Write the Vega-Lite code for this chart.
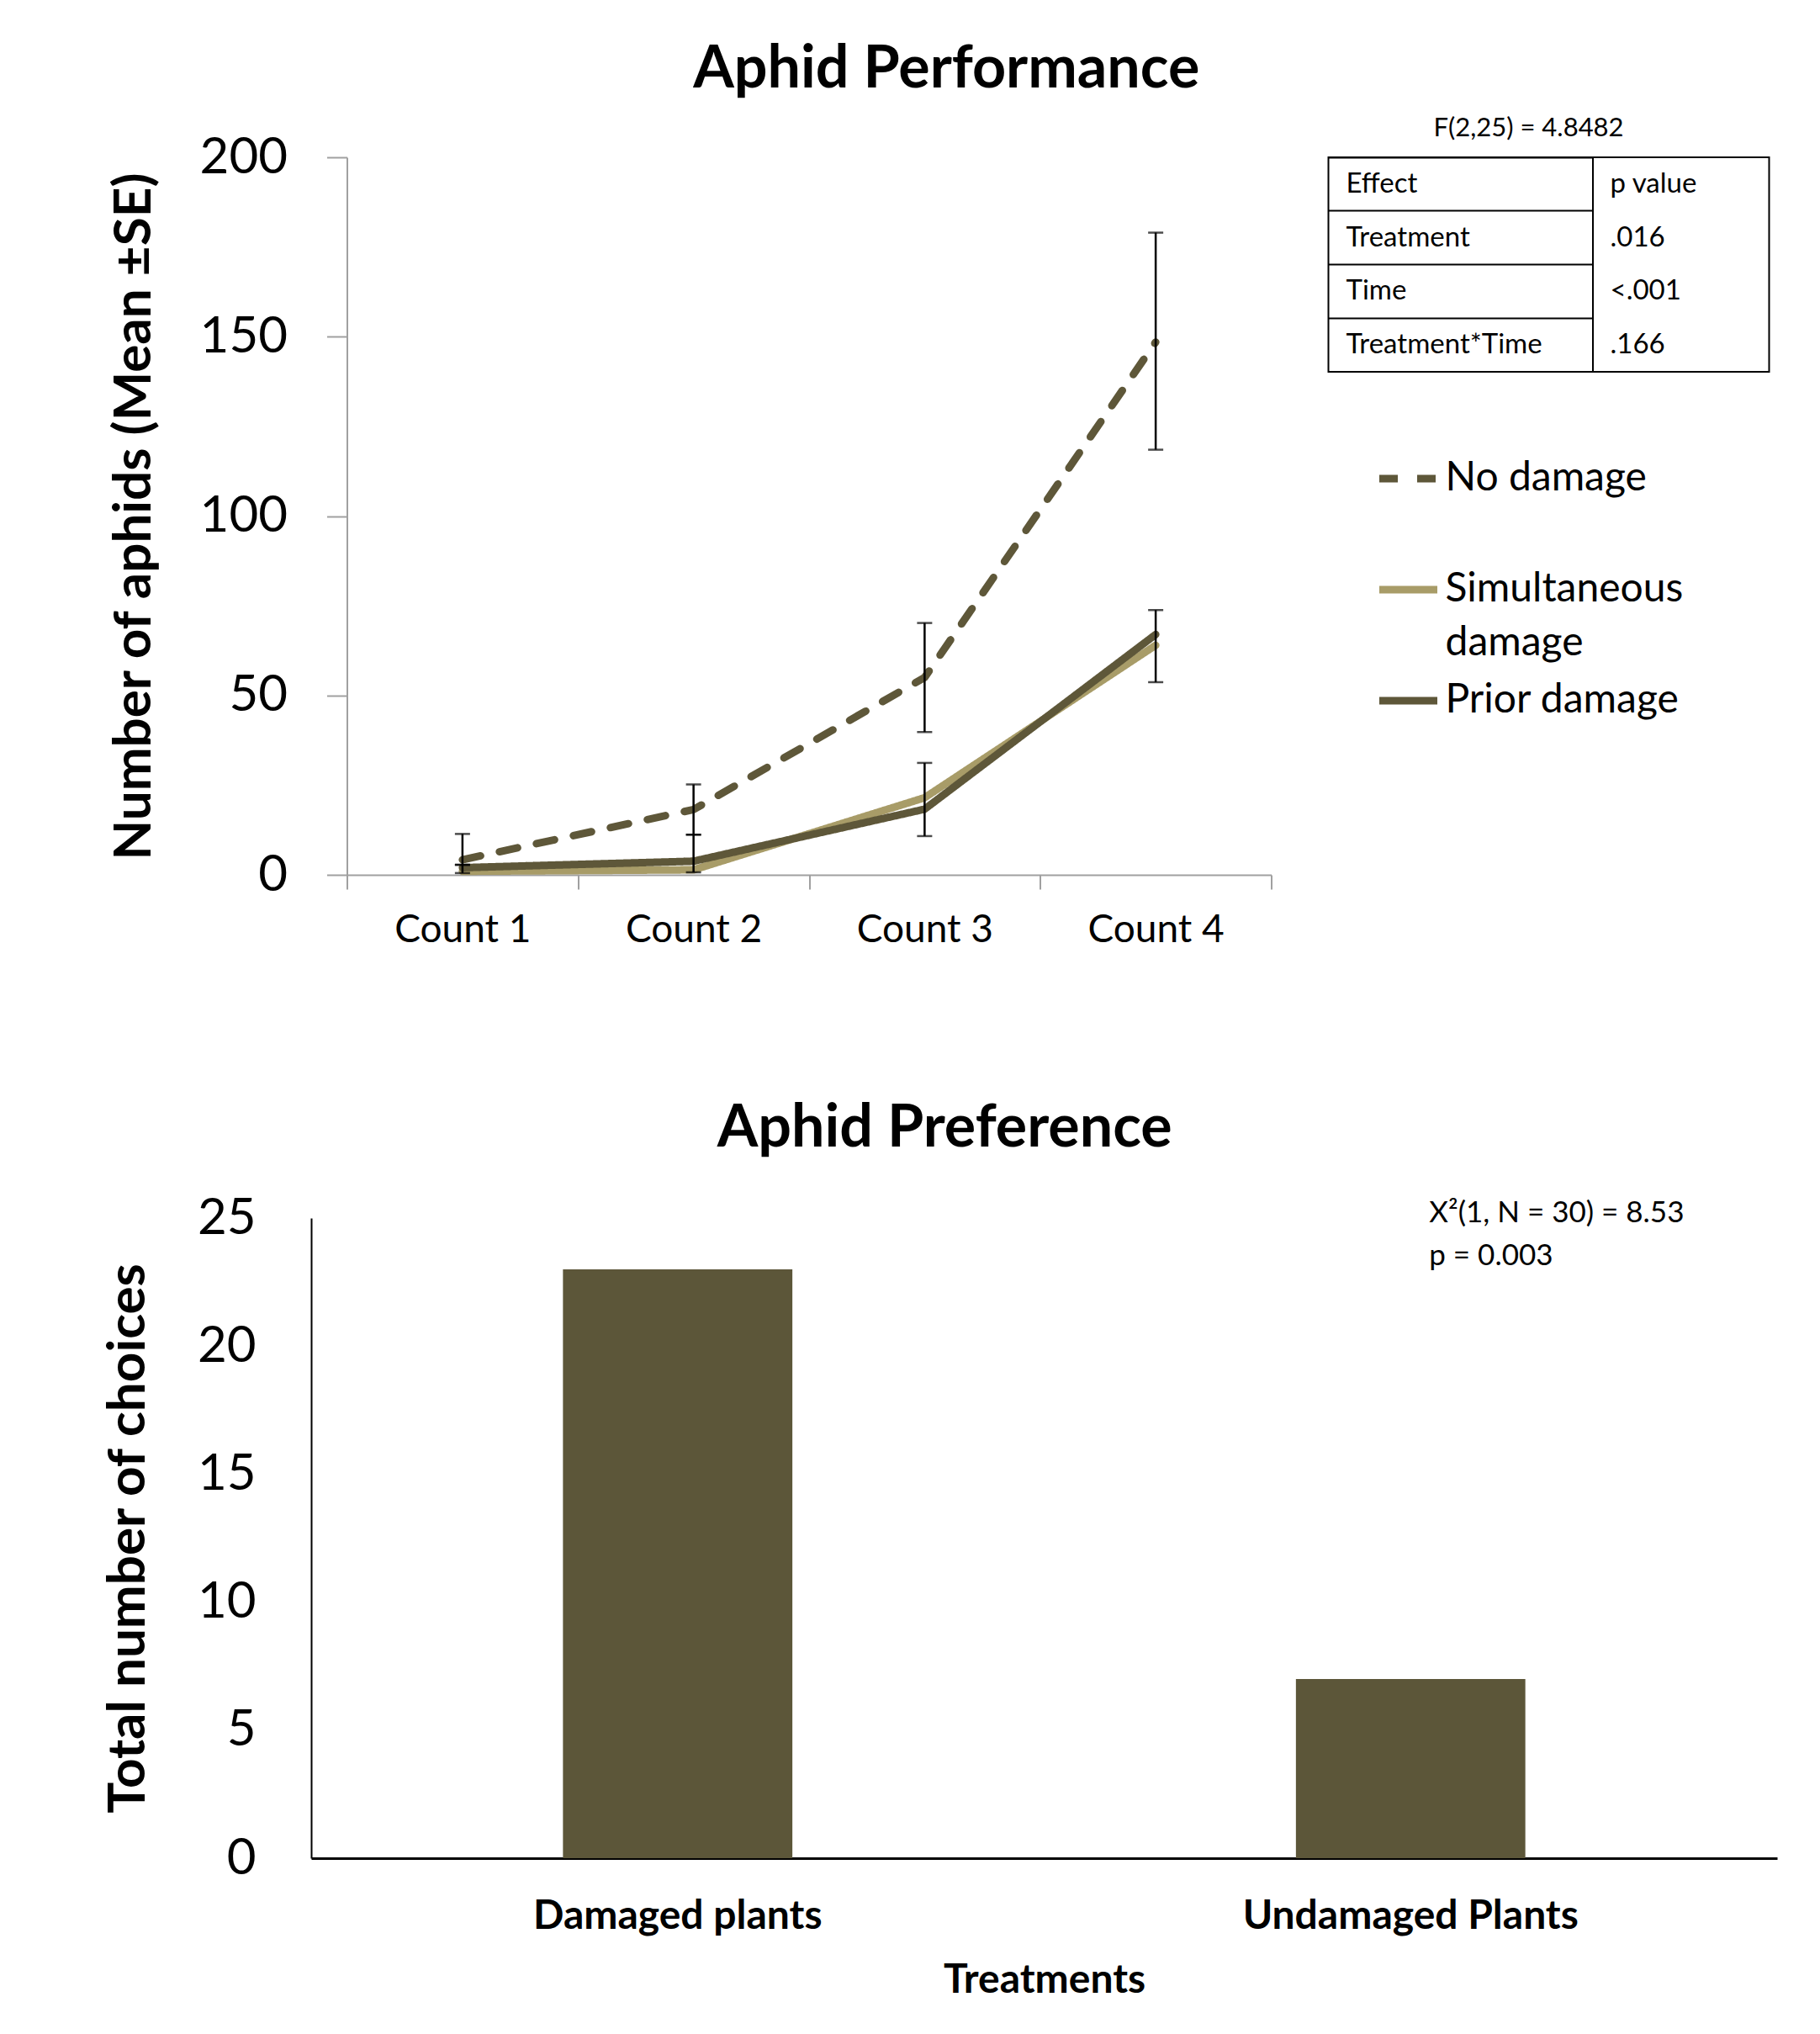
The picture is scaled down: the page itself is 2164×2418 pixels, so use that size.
{
  "$schema": "https://vega.github.io/schema/vega-lite/v6.json",
  "padding": {"left": 121, "top": 48, "right": 10, "bottom": 10},
  "background": "white",
  "config": {
    "font": "Lato",
    "view": {"stroke": null},
    "title": {"font": "Lato", "color": "black"},
    "axis": {"labelFont": "Lato", "titleFont": "Lato", "labelColor": "black", "titleColor": "black"},
    "legend": {"labelFont": "Lato"},
    "style": {"guide-label": {"lineHeight": 64}}
  },
  "spacing": 179,
  "center": true,
  "resolve": {"scale": {"color": "independent", "strokeDash": "independent"}, "legend": {"color": "independent", "strokeDash": "independent"}},
  "vconcat": [
    {
      "title": {"text": "Aphid Performance", "fontSize": 70, "fontWeight": "bold", "anchor": "middle", "offset": 17, "dx": 9, "frame": "bounds"},
      "bounds": "flush",
      "spacing": 68,
      "resolve": {"scale": {"color": "independent", "strokeDash": "independent"}, "legend": {"color": "independent", "strokeDash": "independent"}},
      "hconcat": [
        {
          "width": 1099,
          "height": 853,
          "layer": [
            {
              "data": {"values": [
                {"series": "No damage", "count": "Count 1", "mean": 4.2},
                {"series": "No damage", "count": "Count 2", "mean": 18.2},
                {"series": "No damage", "count": "Count 3", "mean": 55},
                {"series": "No damage", "count": "Count 4", "mean": 148.5},
                {"series": "Simultaneous damage", "count": "Count 1", "mean": 1.0},
                {"series": "Simultaneous damage", "count": "Count 2", "mean": 1.4},
                {"series": "Simultaneous damage", "count": "Count 3", "mean": 21.5},
                {"series": "Simultaneous damage", "count": "Count 4", "mean": 64},
                {"series": "Prior damage", "count": "Count 1", "mean": 2.0},
                {"series": "Prior damage", "count": "Count 2", "mean": 3.8},
                {"series": "Prior damage", "count": "Count 3", "mean": 18.3},
                {"series": "Prior damage", "count": "Count 4", "mean": 67}
              ]},
              "mark": {"type": "line", "strokeWidth": 9, "strokeCap": "round", "strokeJoin": "round"},
              "encoding": {
                "x": {
                  "field": "count", "type": "nominal", "sort": null,
                  "scale": {"type": "band", "paddingInner": 0, "paddingOuter": 0},
                  "axis": {"title": null, "labelAngle": 0, "labelFontSize": 46, "labelPadding": 26, "tickBand": "extent", "tickSize": 17, "tickColor": "#A0A0A0", "tickWidth": 2, "domainColor": "#A0A0A0", "domainWidth": 2}
                },
                "y": {
                  "field": "mean", "type": "quantitative",
                  "scale": {"domain": [0, 200], "nice": false},
                  "axis": {"title": "Number of aphids  (Mean ±SE)", "titleFontSize": 62, "titleFontWeight": "bold", "titlePadding": 46, "values": [0, 50, 100, 150, 200], "labelFontSize": 60, "labelPadding": 47, "tickSize": 24, "tickColor": "#A0A0A0", "tickWidth": 2, "domainColor": "#A0A0A0", "domainWidth": 2, "grid": false}
                },
                "color": {
                  "field": "series", "type": "nominal",
                  "scale": {"domain": ["No damage", "Simultaneous damage", "Prior damage"], "range": ["#5E5739", "#A89C68", "#5E5739"]},
                  "legend": {
                    "title": null, "orient": "none", "legendX": 1223, "legendY": 343, "padding": 0,
                    "symbolType": "stroke", "symbolSize": 4761, "symbolStrokeWidth": 9,
                    "labelFontSize": 48, "labelColor": "black", "labelLimit": 0, "labelOffset": 5, "rowPadding": 5, "gridAlign": "all",
                    "labelExpr": "datum.label == 'Simultaneous damage' ? ['Simultaneous', 'damage'] : datum.label"
                  }
                },
                "strokeDash": {
                  "field": "series", "type": "nominal",
                  "scale": {"domain": ["No damage", "Simultaneous damage", "Prior damage"], "range": [[22, 23], [1, 0], [1, 0]]}
                }
              }
            },
            {
              "data": {"name": "err", "values": [
                {"series": "No damage", "count": "Count 1", "lo": 2.8, "hi": 11.4},
                {"series": "Prior damage", "count": "Count 1", "lo": 0.5, "hi": 2.8},
                {"series": "No damage", "count": "Count 2", "lo": 11.2, "hi": 25.2},
                {"series": "Prior damage", "count": "Count 2", "lo": 0.7, "hi": 11.2},
                {"series": "No damage", "count": "Count 3", "lo": 39.8, "hi": 70.2},
                {"series": "Simultaneous damage", "count": "Count 3", "lo": 10.8, "hi": 31.2},
                {"series": "No damage", "count": "Count 4", "lo": 118.5, "hi": 179},
                {"series": "Simultaneous damage", "count": "Count 4", "lo": 53.7, "hi": 73.8}
              ]},
              "layer": [
                {
                  "mark": {"type": "rule", "color": "black", "strokeWidth": 2.5},
                  "encoding": {
                    "x": {"field": "count", "type": "nominal", "sort": null},
                    "y": {"field": "lo", "type": "quantitative"},
                    "y2": {"field": "hi"}
                  }
                },
                {
                  "mark": {"type": "tick", "orient": "horizontal", "color": "black", "size": 18, "thickness": 2.5},
                  "encoding": {
                    "x": {"field": "count", "type": "nominal", "sort": null},
                    "y": {"field": "lo", "type": "quantitative"}
                  }
                },
                {
                  "mark": {"type": "tick", "orient": "horizontal", "color": "black", "size": 18, "thickness": 2.5},
                  "encoding": {
                    "x": {"field": "count", "type": "nominal", "sort": null},
                    "y": {"field": "hi", "type": "quantitative"}
                  }
                }
              ]
            }
          ]
        },
        {
          "width": 524,
          "height": 255,
          "title": {"text": "F(2,25) = 4.8482", "fontSize": 31, "fontWeight": "normal", "anchor": "middle", "dx": -24, "offset": 18},
          "view": {"stroke": "black", "strokeWidth": 2},
          "data": {"values": [
            {"Effect": "Effect", "p": "p value"},
            {"Effect": "Treatment", "p": ".016"},
            {"Effect": "Time", "p": "<.001"},
            {"Effect": "Treatment*Time", "p": ".166"}
          ]},
          "transform": [{"fold": ["Effect", "p"], "as": ["col", "cell"]}],
          "mark": {"type": "text", "align": "left", "baseline": "middle", "dx": 21, "fontSize": 33, "color": "black"},
          "encoding": {
            "x": {
              "field": "col", "type": "nominal", "sort": ["Effect", "p"],
              "scale": {"type": "point", "range": [0, 314], "padding": 0},
              "axis": {"title": null, "labels": false, "ticks": false, "domain": false, "grid": true, "values": ["p"], "gridColor": "black", "gridWidth": 2, "gridOpacity": 1}
            },
            "y": {
              "field": "Effect", "type": "nominal", "sort": null,
              "scale": {"type": "band", "paddingInner": 0, "paddingOuter": 0},
              "axis": {"title": null, "labels": false, "ticks": false, "domain": false, "grid": true, "bandPosition": 0, "gridColor": "black", "gridWidth": 2, "gridOpacity": 1}
            },
            "text": {"field": "cell", "type": "nominal"}
          }
        }
      ]
    },
    {
      "width": 1777,
      "height": 761,
      "title": {"text": "Aphid Preference", "fontSize": 70, "fontWeight": "bold", "anchor": "middle", "offset": 40, "frame": "bounds", "dx": -11},
      "layer": [
        {
          "data": {"values": [
            {"treatment": "Damaged plants", "choices": 23},
            {"treatment": "Undamaged Plants", "choices": 7}
          ]},
          "mark": {"type": "bar", "color": "#5C5639", "width": {"band": 0.313}},
          "encoding": {
            "x": {
              "field": "treatment", "type": "nominal", "sort": null,
              "scale": {"paddingInner": 0, "paddingOuter": 0, "range": [0, 1743]},
              "axis": {"title": "Treatments", "titleFontSize": 48, "titleFontWeight": "bold", "titlePadding": 28, "labelAngle": 0, "labelFontSize": 48, "labelFontWeight": "bold", "labelPadding": 45, "labelLimit": 0, "ticks": false, "domainColor": "black", "domainWidth": 3}
            },
            "y": {
              "field": "choices", "type": "quantitative",
              "scale": {"domain": [0, 25], "nice": false},
              "axis": {"title": "Total number of choices", "titleFontSize": 62, "titleFontWeight": "bold", "titlePadding": 50, "values": [0, 5, 10, 15, 20, 25], "labelFontSize": 60, "labelPadding": 66, "ticks": false, "domainColor": "black", "domainWidth": 2, "grid": false}
            }
          }
        },
        {
          "data": {"values": [{"stat": ["X²(1, N = 30) = 8.53", "p = 0.003"]}]},
          "mark": {"type": "text", "align": "left", "baseline": "middle", "dx": 22, "dy": -6, "fontSize": 35, "lineHeight": 51, "color": "black"},
          "encoding": {
            "x": {"datum": "Undamaged Plants", "type": "nominal"},
            "y": {"datum": 25, "type": "quantitative"},
            "text": {"field": "stat", "type": "nominal"}
          }
        }
      ]
    }
  ]
}
